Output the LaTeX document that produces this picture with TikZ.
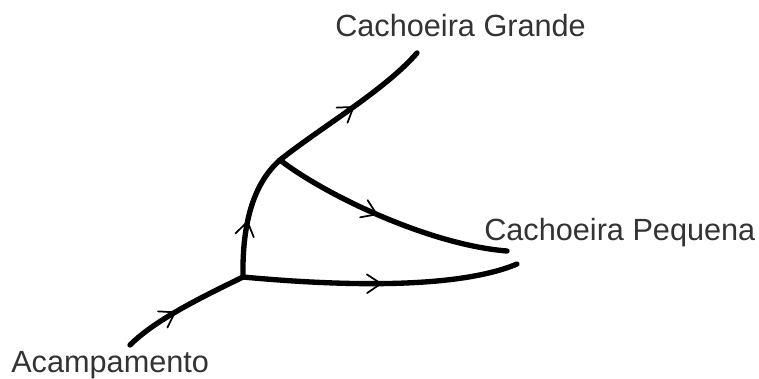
\documentclass[tikz,border=0pt]{standalone}
\usepackage{fontspec}
\setmainfont{Liberation Sans}
\usetikzlibrary{decorations.markings}
\begin{document}
\begin{tikzpicture}[x=0.75pt,y=-0.75pt,
  path/.style={line width=4pt,line cap=round},
  chev/.style={postaction={decorate},decoration={markings,
    mark=at position #1 with {\draw[line width=1.3pt,line cap=round,line join=miter] (-10.5pt,7pt) -- (0,0) -- (-10.5pt,-7pt);}}},
  lbl/.style={font=\fontsize{23}{27}\selectfont,text=black!80,inner sep=0pt,anchor=base west}]
\useasboundingbox (0,0) rectangle (759,378);
\coordinate (acamp) at (130,345);
\coordinate (A) at (243,277);
\coordinate (B) at (280,160);
\coordinate (cg) at (417,53);
\coordinate (cp1) at (507,251);
\coordinate (cp2) at (517,264);
\node[lbl] (lacamp) at (11,372) {Acampamento};
\node[lbl] (lcg) at (335,37) {Cachoeira Grande};
\node[lbl] (lcp) at (484,240) {Cachoeira Pequena};
\draw[path,chev=0.42] (acamp) .. controls (155,320) and (200,298) .. (A);
\draw[path,chev=0.44] (A) .. controls (242,220) and (255,182) .. (B);
\draw[path,chev=0.52] (B) .. controls (320,128) and (385,90) .. (cg);
\draw[path,chev=0.45] (B) .. controls (325,195) and (430,245) .. (cp1);
\draw[path,chev=0.5] (A) .. controls (350,287) and (460,288) .. (cp2);
\end{tikzpicture}
\end{document}
